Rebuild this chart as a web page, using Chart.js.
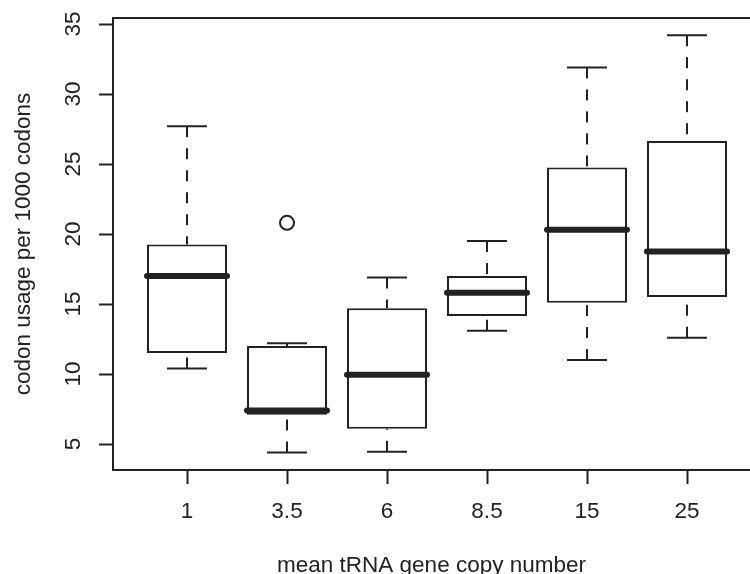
<!DOCTYPE html>
<html>
<head>
<meta charset="utf-8">
<script src="https://cdn.jsdelivr.net/npm/chart.js@4.4.1/dist/chart.umd.min.js"></script>
<style>
  html, body { margin: 0; padding: 0; background: #fff; overflow: hidden; }
  #wrap { width: 750px; height: 574px; }
</style>
</head>
<body>
<div id="wrap"><canvas id="codon_usage"></canvas></div>
<script>
// boxplot stats, one entry per copy-number group
const positions = [1, 2, 3, 4, 5, 6];
const tickLabels = ['1', '3.5', '6', '8.5', '15', '25'];
const lowerWhisker = [10.4, 4.4, 4.45, 13.1, 11.0, 12.6];
const lowerQuartile = [11.5, 7.1, 6.1, 14.15, 15.1, 15.5];
const medians = [17.0, 7.4, 9.95, 15.8, 20.3, 18.75];
const upperQuartile = [19.25, 12.0, 14.7, 17.0, 24.75, 26.65];
const upperWhisker = [27.7, 12.2, 16.9, 19.5, 31.9, 34.2];
const outliers = [{ x: 2, y: 20.8 }];
const yTicks = [5, 10, 15, 20, 25, 30, 35];

const ink = '#222';
const family = "'Liberation Sans', Arial, Helvetica, sans-serif";
const fontSize = 22.5;

// whiskers, caps, medians and the top side of the frame
const boxParts = {
  id: 'boxParts',
  beforeDatasetsDraw(chart) {
    const { ctx, scales: { x, y } } = chart;
    ctx.save();
    ctx.strokeStyle = ink;
    ctx.lineWidth = 2;
    positions.forEach((p, i) => {
      const cx = x.getPixelForValue(p);
      const capL = x.getPixelForValue(p - 0.2);
      const capR = x.getPixelForValue(p + 0.2);
      [[upperWhisker[i], upperQuartile[i]], [lowerWhisker[i], lowerQuartile[i]]].forEach(([end, hinge]) => {
        ctx.setLineDash([11, 11]);
        ctx.beginPath();
        ctx.moveTo(cx, y.getPixelForValue(end));
        ctx.lineTo(cx, y.getPixelForValue(hinge));
        ctx.stroke();
        ctx.setLineDash([]);
        ctx.beginPath();
        ctx.moveTo(capL, y.getPixelForValue(end));
        ctx.lineTo(capR, y.getPixelForValue(end));
        ctx.stroke();
      });
    });
    ctx.restore();
  },
  afterDatasetsDraw(chart) {
    const { ctx, chartArea, scales: { x, y } } = chart;
    ctx.save();
    ctx.strokeStyle = ink;
    ctx.lineWidth = 6;
    ctx.lineCap = 'round';
    positions.forEach((p, i) => {
      const my = y.getPixelForValue(medians[i]);
      ctx.beginPath();
      ctx.moveTo(x.getPixelForValue(p - 0.4), my);
      ctx.lineTo(x.getPixelForValue(p + 0.4), my);
      ctx.stroke();
    });
    ctx.lineWidth = 2;
    ctx.lineCap = 'butt';
    ctx.beginPath();
    ctx.moveTo(chartArea.left, chartArea.top);
    ctx.lineTo(chartArea.right, chartArea.top);
    ctx.stroke();
    ctx.restore();
  }
};

const ctx = document.getElementById('codon_usage');

new Chart(ctx, {
  type: 'bar',
  data: {
    datasets: [
      {
        label: 'boxes',
        data: positions.map((p, i) => ({ x: p, y: [lowerQuartile[i], upperQuartile[i]] })),
        backgroundColor: '#fff',
        borderColor: ink,
        borderWidth: 2,
        borderSkipped: false,
        inflateAmount: 0,
        barPercentage: 0.8,
        categoryPercentage: 1
      },
      {
        type: 'scatter',
        label: 'outliers',
        data: outliers,
        pointRadius: 7,
        pointBackgroundColor: '#fff',
        pointBorderColor: ink,
        pointBorderWidth: 2
      }
    ]
  },
  options: {
    responsive: true,
    maintainAspectRatio: false,
    animation: false,
    layout: { autoPadding: false, padding: { top: 18, left: 0, right: 0, bottom: 0 } },
    plugins: { legend: { display: false }, tooltip: { enabled: false } },
    scales: {
      x: {
        type: 'linear',
        min: 0.26,
        max: 6.63,
        offset: false,
        afterBuildTicks: s => { s.ticks = positions.map(v => ({ value: v })); },
        afterFit: s => { s.height = 104; s.paddingLeft = 0; s.paddingRight = 0; },
        grid: { offset: false, drawOnChartArea: false, tickLength: 14, tickWidth: 2, tickColor: ink },
        border: { display: true, color: ink, width: 2 },
        ticks: {
          autoSkip: false,
          maxRotation: 0,
          padding: 14,
          color: ink,
          font: { family, size: fontSize },
          callback: (v, i) => tickLabels[i]
        },
        title: {
          display: true,
          text: 'mean tRNA gene copy number',
          color: ink,
          font: { family, size: fontSize, lineHeight: 0.75 },
          padding: 0
        }
      },
      y: {
        min: 3.15,
        max: 35.43,
        afterBuildTicks: s => { s.ticks = yTicks.map(v => ({ value: v })); },
        afterFit: s => { s.width = 113; s.paddingTop = 0; s.paddingBottom = 0; },
        grid: { drawOnChartArea: false, tickLength: 14, tickWidth: 2, tickColor: ink },
        border: { display: true, color: ink, width: 2 },
        ticks: {
          minRotation: 90,
          maxRotation: 90,
          crossAlign: 'center',
          padding: 13,
          color: ink,
          font: { family, size: fontSize }
        },
        title: {
          display: true,
          text: 'codon usage per 1000 codons',
          color: ink,
          font: { family, size: fontSize, lineHeight: 1 },
          padding: { top: 13 }
        }
      }
    }
  },
  plugins: [boxParts]
});
</script>
</body>
</html>
